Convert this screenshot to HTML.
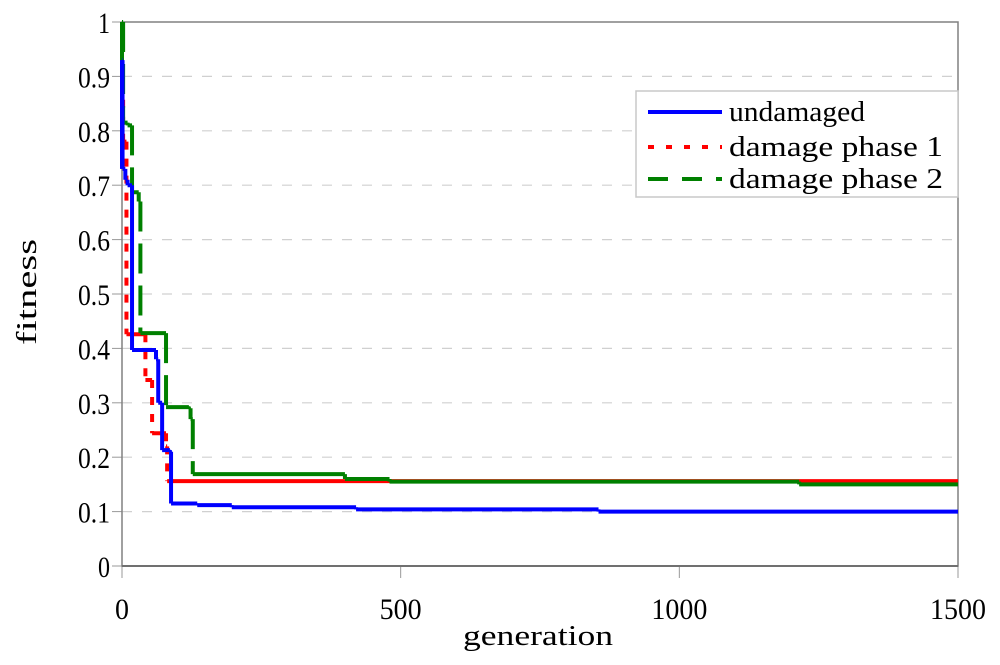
<!DOCTYPE html>
<html><head><meta charset="utf-8"><style>
html,body{margin:0;padding:0;background:#fff;}
svg{display:block;font-family:"Liberation Serif","Noto Serif CJK SC",serif;}
</style></head><body>
<svg id="chart" width="1000" height="665" viewBox="0 0 1000 665">
<rect x="0" y="0" width="1000" height="665" fill="#fff"/>
<g id="grid"></g>
<g id="axes"></g>
<g id="series"></g>
<text x="463" y="645" font-size="28" textLength="150" lengthAdjust="spacingAndGlyphs">generation</text>
<text transform="translate(36,345) rotate(-90)" font-size="28" textLength="106" lengthAdjust="spacingAndGlyphs">fitness</text>
<g>
<rect x="636" y="91" width="322" height="106" fill="#fff" stroke="#c8c8c8" stroke-width="1.5"/>
<g>
<line x1="648" y1="112" x2="722" y2="112" stroke="#0000ff" stroke-width="4"/>
<text x="729" y="121" font-size="28" textLength="136" lengthAdjust="spacingAndGlyphs">undamaged</text></g>
<g>
<line x1="648" y1="147" x2="722" y2="147" stroke="#ff0000" stroke-width="4" stroke-dasharray="6,12"/>
<text x="729" y="156" font-size="28" textLength="214" lengthAdjust="spacingAndGlyphs">damage phase 1</text></g>
<g>
<line x1="648" y1="179" x2="722" y2="179" stroke="#008000" stroke-width="4" stroke-dasharray="20,14"/>
<text x="729" y="188" font-size="28" textLength="214" lengthAdjust="spacingAndGlyphs">damage phase 2</text></g>
</g>
</svg>
<script>
const xTicks = [0, 500, 1000, 1500];
const yTicks = [0, 0.1, 0.2, 0.3, 0.4, 0.5, 0.6, 0.7, 0.8, 0.9, 1];
const yTickLabels = ["0","0.1","0.2","0.3","0.4","0.5","0.6","0.7","0.8","0.9","1"];
const undamagedGen = [0, 1, 6, 10, 18, 61, 65, 72, 86, 88, 135, 197, 420, 855, 1500];
const undamagedFit = [0.93, 0.73, 0.71, 0.70, 0.397, 0.38, 0.30, 0.213, 0.21, 0.115, 0.112, 0.108, 0.104, 0.100, 0.100];
const phase1Gen = [0, 2, 8, 42, 54, 79, 81, 1500];
const phase1Fit = [0.857, 0.78, 0.426, 0.342, 0.244, 0.22, 0.156, 0.156];
const phase2Gen = [0, 2, 10, 18, 30, 33, 79, 120, 123, 127, 400, 480, 1215, 1500];
const phase2Fit = [1.0, 0.815, 0.81, 0.687, 0.67, 0.428, 0.292, 0.29, 0.27, 0.169, 0.16, 0.155, 0.15, 0.15];

const X0 = 122, X1 = 958, Y0 = 566, Y1 = 22;
const xs = g => X0 + g / 1500 * (X1 - X0);
const ys = v => Y0 - v * (Y0 - Y1);
const NS = "http://www.w3.org/2000/svg";
function mk(tag, attrs, parent) {
  const e = document.createElementNS(NS, tag);
  for (const k in attrs) e.setAttribute(k, attrs[k]);
  parent.appendChild(e);
  return e;
}
const grid = document.getElementById('grid');
const axes = document.getElementById('axes');
const series = document.getElementById('series');

yTicks.forEach((v, i) => {
  const y = ys(v);
  if (v > 0 && v < 1) {
    const gl = mk('line', {x1: X0, x2: X1, y1: y, y2: y, stroke: '#d0d0d0', 'stroke-width': 1.2, 'stroke-dasharray': '10,10'}, grid);
    
    
  }
  const tk = mk('line', {x1: X0 - 10, x2: X0, y1: y, y2: y, stroke: '#999', 'stroke-width': 1}, axes);
  
  
  const lab = yTickLabels[i];
  const t = mk('text', {x: X0 - 12, y: y + 11, 'font-size': 30, 'text-anchor': 'end', textLength: lab.length > 1 ? 32 : 12, lengthAdjust: 'spacingAndGlyphs'}, axes);
  t.textContent = lab;
  
  
});
xTicks.forEach(g => {
  const x = xs(g);
  const tk = mk('line', {x1: x, x2: x, y1: Y0, y2: Y0 + 12, stroke: '#999', 'stroke-width': 1}, axes);
  
  
  const s = String(g);
  const w = s.length * 14;
  const t = mk('text', {x: x - w / 2, y: 619, 'font-size': 30, textLength: w, lengthAdjust: 'spacingAndGlyphs'}, axes);
  t.textContent = s;
  
  
});
const frame = mk('rect', {x: X0, y: Y1, width: X1 - X0, height: Y0 - Y1, fill: 'none', stroke: '#808080', 'stroke-width': 1.5}, axes);


const xa = mk('line', {x1: X0, x2: X1, y1: Y0, y2: Y0, stroke: '#707070', 'stroke-width': 2}, axes);



function drawSeries(gens, fits, color, dash, name) {
  const g = mk('g', {}, series);
  
  
  let h = '', v = '';
  for (let i = 0; i < gens.length - 1; i++) {
    h += 'M' + xs(gens[i]) + ',' + ys(fits[i]) + ' L' + xs(gens[i + 1]) + ',' + ys(fits[i]) + ' ';
    v += 'M' + xs(gens[i + 1]) + ',' + ys(fits[i]) + ' L' + xs(gens[i + 1]) + ',' + ys(fits[i + 1]) + ' ';
  }
  const vv = mk('path', {d: v, fill: 'none', stroke: color, 'stroke-width': 4}, g);
  if (dash) vv.setAttribute('stroke-dasharray', dash);
  mk('path', {d: h, fill: 'none', stroke: color, 'stroke-width': 4}, g);
  mk('path', {d: 'M' + xs(gens[0]) + ',' + ys(fits[0]) + ' L' + xs(gens[0]) + ',' + ys(fits[1]), fill: 'none', stroke: color, 'stroke-width': 4}, g);
}
drawSeries(phase1Gen, phase1Fit, '#ff0000', '8,9', 'line-damage-phase-1');
drawSeries(phase2Gen, phase2Fit, '#008000', '30,12', 'line-damage-phase-2');
drawSeries(undamagedGen, undamagedFit, '#0000ff', null, 'line-undamaged');
</script>
</body></html>
